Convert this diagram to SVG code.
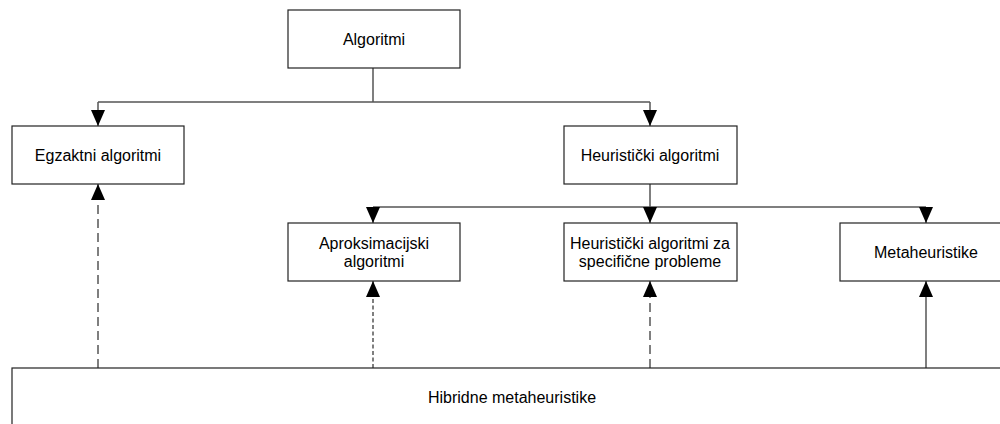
<svg xmlns="http://www.w3.org/2000/svg" width="1000" height="424" viewBox="0 0 1000 424">
<defs>
<style>
.box{fill:#fff;stroke:#222;stroke-width:1.2}
.t{font-family:"Liberation Sans",Arial,sans-serif;font-size:16px;fill:#000;text-anchor:middle}
.c{fill:none;stroke:#555;stroke-width:1.5}
.d1{stroke-dasharray:9 5}
.d2{stroke-dasharray:4 2.5}
</style>
<marker id="ah" viewBox="0 0 16 14" refX="16" refY="7" markerWidth="16" markerHeight="14" markerUnits="userSpaceOnUse" orient="auto">
<path d="M0,0 L16,7 L0,14 Z" fill="#000"/>
</marker>
</defs>
<g id="connectors">
<path class="c" d="M373,68 V102"/>
<path class="c" d="M98,102 H650" />
<path class="c" d="M98,102 V126" marker-end="url(#ah)"/>
<path class="c" d="M650,102 V126" marker-end="url(#ah)"/>
<path class="c" d="M650,184 V207"/>
<path class="c" d="M373,207 H926"/>
<path class="c" d="M373,207 V223" marker-end="url(#ah)"/>
<path class="c" d="M650,207 V223" marker-end="url(#ah)"/>
<path class="c" d="M926,207 V223" marker-end="url(#ah)"/>
<path class="c d1" d="M98,368 V184" marker-end="url(#ah)"/>
<path class="c d2" d="M373,368 V281" marker-end="url(#ah)"/>
<path class="c d1" d="M650,368 V281" marker-end="url(#ah)"/>
<path class="c" d="M926,368 V281" marker-end="url(#ah)"/>
</g>
<g id="algoritmi">
<rect class="box" x="288" y="10" width="172" height="58"/>
<text class="t" x="374" y="45">Algoritmi</text>
</g>
<g id="egzaktni">
<rect class="box" x="12" y="126" width="172" height="58"/>
<text class="t" x="98" y="161">Egzaktni algoritmi</text>
</g>
<g id="heuristicki">
<rect class="box" x="564" y="126" width="173" height="58"/>
<text class="t" x="650" y="161">Heuristički algoritmi</text>
</g>
<g id="aproksimacijski">
<rect class="box" x="288" y="223" width="172" height="58"/>
<text class="t" x="374" y="248.5">Aproksimacijski</text>
<text class="t" x="374" y="266.5">algoritmi</text>
</g>
<g id="heuristicki-specificni">
<rect class="box" x="564" y="223" width="173" height="58"/>
<text class="t" x="650" y="248.5">Heuristički algoritmi za</text>
<text class="t" x="650" y="266.5">specifične probleme</text>
</g>
<g id="metaheuristike">
<rect class="box" x="840" y="223" width="172" height="58"/>
<text class="t" x="926" y="258">Metaheuristike</text>
</g>
<g id="hibridne">
<rect class="box" x="12" y="368" width="1000" height="62"/>
<text class="t" x="512" y="403">Hibridne metaheuristike</text>
</g>
</svg>
